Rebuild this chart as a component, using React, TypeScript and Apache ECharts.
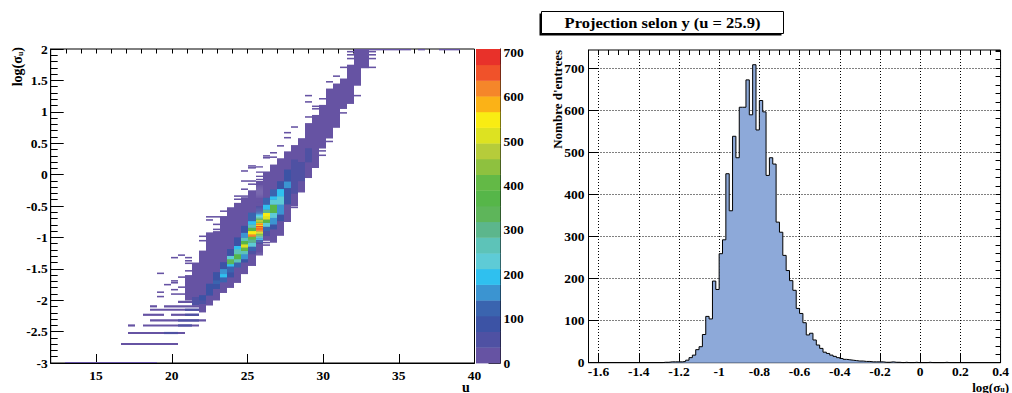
import { useEffect, useRef } from "react";
import * as echarts from "echarts";

const FONT = "'Liberation Serif', 'Times New Roman', serif";

// ---------- left panel: 2D histogram (u vs log(sigma_u)) ----------
const uMin = 12;
const uMax = 40;
const uBinCount = 60;
const vMin = -3;
const vMax = 2;
const vBinCount = 300;
const uTickLabels = [15, 20, 25, 30, 35, 40];
const zMax = 708;
const paletteColors = [
  "#6653a3", "#4f51a3", "#3c53a5", "#3a64af", "#3b94d1",
  "#2fc0ef", "#5ecbd6", "#5dc3b8", "#5cb68c", "#5eb55a",
  "#56b649", "#63b946", "#8ec13f", "#b6cc3a", "#dde221",
  "#f9ec13", "#fbb217", "#f5862a", "#f0522a", "#e8312a",
];
const colorbarTicks = [0, 100, 200, 300, 400, 500, 600, 700];

// dense band per column: [column, vLow, vHigh, count]
const bandCols: [number, number, number, number][] = [
  [19, -2.0, -1.6, 10],
  [20, -2.08, -1.4, 10],
  [21, -2.19, -1.21, 12],
  [22, -2.08, -0.92, 12],
  [23, -2.0, -0.9, 14],
  [24, -1.88, -0.66, 14],
  [25, -1.8, -0.52, 14],
  [26, -1.72, -0.45, 15],
  [27, -1.58, -0.36, 15],
  [28, -1.45, -0.25, 15],
  [30, -1.05, 0.05, 15],
  [31, -1.08, 0.16, 15],
  [32, -0.97, 0.26, 14],
  [33, -0.75, 0.37, 14],
  [34, -0.5, 0.47, 14],
  [35, -0.28, 0.58, 12],
  [36, -0.05, 0.82, 12],
  [37, 0.11, 0.95, 10],
  [38, 0.42, 1.11, 10],
  [39, 0.58, 1.37, 10],
  [40, 0.75, 1.45, 8],
  [41, 1.05, 1.53, 8],
  [42, 1.13, 1.75, 8],
  [43, 1.42, 2.0, 6],
  [44, 1.7, 2.0, 6],
];

// denser ridge runs: [column, vLow, vHigh, count]
const ridgeRuns: [number, number, number, number][] = [
  [21, -2.05, -1.92, 85],
  [20, -2.08, -1.95, 60],
  [22, -1.922, -1.737, 85],
  [23, -1.817, -1.553, 85],
  [23, -1.737, -1.685, 125],
  [24, -1.711, -1.632, 125],
  [24, -1.632, -1.58, 195],
  [24, -1.58, -1.5, 160],
  [24, -1.5, -1.395, 85],
  [25, -1.632, -1.553, 85],
  [25, -1.553, -1.459, 125],
  [25, -1.459, -1.422, 195],
  [25, -1.422, -1.343, 335],
  [25, -1.343, -1.29, 230],
  [25, -1.29, -1.185, 85],
  [26, -1.474, -1.395, 125],
  [26, -1.395, -1.343, 265],
  [26, -1.343, -1.264, 370],
  [26, -1.264, -1.185, 265],
  [26, -1.185, -1.132, 195],
  [26, -1.132, -1.0, 85],
  [27, -1.395, -1.343, 85],
  [27, -1.343, -1.264, 160],
  [27, -1.264, -1.211, 265],
  [27, -1.211, -1.158, 400],
  [27, -1.158, -1.106, 510],
  [27, -1.106, -1.053, 370],
  [27, -1.053, -1.0, 265],
  [27, -1.0, -0.922, 160],
  [27, -0.922, -0.816, 85],
  [28, -1.264, -1.211, 50],
  [28, -1.211, -1.143, 125],
  [28, -1.143, -1.08, 230],
  [28, -1.08, -1.027, 300],
  [28, -1.027, -0.985, 400],
  [28, -0.985, -0.948, 615],
  [28, -0.948, -0.895, 545],
  [28, -0.895, -0.842, 370],
  [28, -0.842, -0.79, 265],
  [28, -0.79, -0.737, 195],
  [28, -0.737, -0.606, 125],
  [30, -0.974, -0.895, 50],
  [30, -0.895, -0.826, 125],
  [30, -0.826, -0.764, 230],
  [30, -0.764, -0.711, 370],
  [30, -0.711, -0.658, 510],
  [30, -0.658, -0.606, 545],
  [30, -0.606, -0.553, 300],
  [30, -0.553, -0.474, 195],
  [30, -0.474, -0.369, 125],
  [31, -0.869, -0.79, 85],
  [31, -0.79, -0.685, 160],
  [31, -0.685, -0.606, 230],
  [31, -0.606, -0.474, 370],
  [31, -0.474, -0.395, 230],
  [31, -0.395, -0.342, 195],
  [31, -0.342, -0.237, 125],
  [32, -0.737, -0.632, 85],
  [32, -0.632, -0.474, 160],
  [32, -0.474, -0.342, 230],
  [32, -0.342, -0.226, 195],
  [32, -0.226, -0.105, 85],
  [33, -0.47, -0.21, 85],
  [33, -0.21, -0.105, 160],
  [33, -0.105, 0.08, 85],
  [34, -0.3, 0.24, 50],
  [35, -0.1, 0.2, 45],
  [36, 0.2, 0.42, 40],
];

// isolated rows of cells: [fromColumn, toColumn, vLow, vHigh, count]
const strayRows: [number, number, number, number, number][] = [
  [42, 42, 1.95, 1.97, 2], [45, 45, 1.95, 1.97, 2],
  [42, 42, 1.9, 1.92, 2], [45, 45, 1.9, 1.92, 2],
  [42, 42, 1.84, 1.86, 2], [45, 45, 1.84, 1.86, 2],
  [41, 41, 1.7, 1.72, 2], [44, 45, 1.7, 1.72, 2],
  [40, 40, 1.56, 1.58, 2], [39, 39, 1.47, 1.49, 2],
  [36, 36, 1.25, 1.27, 2], [43, 43, 1.25, 1.27, 2],
  [38, 38, 1.2, 1.22, 2], [36, 36, 1.15, 1.17, 2],
  [37, 37, 1.08, 1.1, 2], [37, 37, 1.04, 1.06, 2],
  [41, 41, 0.975, 0.995, 2], [36, 36, 0.91, 0.93, 2],
  [34, 34, 0.75, 0.77, 2], [33, 33, 0.66, 0.68, 2],
  [33, 33, 0.58, 0.6, 2], [39, 39, 0.52, 0.54, 2],
  [32, 32, 0.45, 0.47, 2], [31, 31, 0.34, 0.36, 2],
  [38, 38, 0.37, 0.39, 2], [38, 38, 0.3, 0.32, 2],
  [30, 30, 0.26, 0.28, 2], [30, 30, 0.29, 0.31, 2],
  [31, 31, 0.27, 0.29, 2], [28, 28, 0.13, 0.15, 2],
  [28, 28, 0.1, 0.12, 2], [27, 27, 0.05, 0.07, 2],
  [27, 28, -0.11, -0.09, 2], [28, 28, -0.16, -0.14, 2],
  [27, 27, -0.24, -0.22, 2], [26, 27, -0.35, -0.33, 2],
  [26, 26, -0.4, -0.38, 2], [34, 34, -0.53, -0.51, 2],
  [24, 24, -0.59, -0.57, 2], [22, 23, -0.68, -0.66, 2],
  [22, 22, -0.73, -0.71, 2], [23, 23, -0.8, -0.78, 2],
  [23, 23, -0.88, -0.86, 2], [21, 21, -0.99, -0.97, 2],
  [30, 30, -1.09, -1.07, 2], [30, 30, -1.13, -1.11, 2],
  [21, 21, -1.06, -1.04, 2], [18, 18, -1.29, -1.27, 2],
  [17, 17, -1.33, -1.31, 2], [19, 19, -1.33, -1.31, 2],
  [19, 19, -1.38, -1.36, 2], [19, 19, -1.42, -1.4, 2],
  [19, 19, -1.54, -1.52, 2], [15, 15, -1.58, -1.56, 2],
  [18, 18, -1.64, -1.62, 2], [17, 17, -1.7, -1.68, 2],
  [17, 17, -1.73, -1.71, 2], [16, 16, -1.76, -1.74, 2],
  [18, 18, -1.8, -1.78, 2], [17, 17, -1.84, -1.82, 2],
  [15, 15, -1.88, -1.86, 2], [17, 18, -1.91, -1.89, 2],
  [15, 15, -1.95, -1.93, 2],
  [18, 22, -2.04, -2.01, 4],
  [14, 14, -2.11, -2.08, 3], [16, 21, -2.11, -2.08, 4],
  [14, 20, -2.165, -2.135, 4],
  [13, 15, -2.245, -2.215, 3], [17, 20, -2.245, -2.215, 4],
  [14, 21, -2.335, -2.305, 4],
  [11, 11, -2.415, -2.385, 2], [13, 20, -2.415, -2.385, 4],
  [11, 18, -2.535, -2.505, 4],
  [10, 17, -2.71, -2.68, 3],
  [2, 14, -3.0, -2.983, 4],
  [20, 21, -2.04, -2.01, 60], [19, 20, -2.165, -2.135, 60],
  [19, 20, -2.245, -2.215, 60], [18, 20, -2.335, -2.305, 60],
  [18, 19, -2.415, -2.385, 60], [16, 17, -2.535, -2.505, 60],
];

// cells in the topmost bin (v = 2)
const topRowCols = [45, 46, 47, 48, 49, 50, 52, 55, 56, 57];
const topRowCount = 3;

// ---------- right panel: projection of the column u = 25.9 ----------
const projColumn = 29;
const projMin = -1.65;
const projMax = 0.4;
const projYMax = 743;
const projXTicks = [-1.6, -1.4, -1.2, -1, -0.8, -0.6, -0.4, -0.2, 0, 0.2, 0.4];
const projYTicks = [0, 100, 200, 300, 400, 500, 600, 700];
const projCounts = [
  0, 0, 0, 0, 0, 0, 0, 0, 0, 0, 0, 0, 0, 0, 0, 0, 0, 0, 0, 0, 0, 0,
  1, 1, 2, 2, 2,
  2, 3, 6, 12, 18, 31, 38, 67, 110, 104, 194, 174,
  259, 292, 449, 361, 538, 487, 607, 607, 672, 589, 708, 553,
  623, 596, 445, 487, 472, 334, 310, 255, 219, 195, 172, 129,
  117, 95, 66, 70, 54, 42, 34, 25, 22, 18, 15, 12,
  10, 8, 7, 6, 5, 4, 4, 3, 3, 2, 2, 2,
  2, 1, 1, 2, 1, 1, 0, 1, 0, 0, 1, 0,
  0, 0, 1, 0, 0, 0, 0, 1, 0, 0, 0, 0,
  0, 0, 0, 0, 0, 0, 0, 0, 0, 0, 0, 0,
];

const uBin = (uMax - uMin) / uBinCount;
const vBin = (vMax - vMin) / vBinCount;
const colEdge = (k: number) => uMin + k * uBin;

function colorFor(value: number): string {
  const lvl = Math.min(paletteColors.length - 1, Math.floor(value / (zMax / paletteColors.length)));
  return paletteColors[Math.max(0, lvl)];
}

function buildCells(): number[][] {
  const cells: number[][] = [];
  bandCols.forEach(([k, lo, hi, c]) => cells.push([colEdge(k), colEdge(k + 1), lo, hi, c]));
  ridgeRuns.forEach(([k, lo, hi, c]) => cells.push([colEdge(k), colEdge(k + 1), lo, hi, c]));
  strayRows.forEach(([k0, k1, lo, hi, c]) => cells.push([colEdge(k0), colEdge(k1 + 1), lo, hi, c]));
  topRowCols.forEach((k) => cells.push([colEdge(k), colEdge(k + 1), vMax - vBin, vMax, topRowCount]));
  projCounts.forEach((c, i) => {
    if (c > 0) {
      cells.push([colEdge(projColumn), colEdge(projColumn + 1), projMin + i * vBin, projMin + (i + 1) * vBin, c]);
    }
  });
  return cells;
}

const labelStyle = {
  fontFamily: FONT,
  fontWeight: "bold" as const,
  fontSize: 13.5,
  color: "#000",
};
const black = { color: "#000", width: 1 };
const axisLineBlack = { show: true, onZero: false, lineStyle: black };

export default function App() {
  const ref = useRef<HTMLDivElement>(null);
  useEffect(() => {
    if (!ref.current) return;
    const chart = echarts.init(ref.current, undefined, { renderer: "svg" });
    const cells = buildCells();
    const histData: number[][] = projCounts.map((c, i) => [projMin + i * vBin, c]);
    histData.push([projMax, projCounts[projCounts.length - 1]]);
    const colorbarData = paletteColors.map((_, i) => [
      (i * zMax) / paletteColors.length,
      ((i + 1) * zMax) / paletteColors.length,
      i,
    ]);

    const subRich = (lh: number) => ({
      s: { fontFamily: FONT, fontWeight: "bold", fontSize: 8, verticalAlign: "bottom", lineHeight: lh },
    });
    const hidden = { show: false, onZero: false };

    chart.setOption({
      animation: false,
      backgroundColor: "#fff",
      grid: [
        { left: 50.7, top: 49, width: 423.8, height: 314, show: true, borderColor: "#000", borderWidth: 1 },
        { left: 476, top: 49, width: 24.5, height: 314 },
        { left: 588.5, top: 50, width: 417.2, height: 312.7, show: true, borderColor: "#000", borderWidth: 1 },
      ],
      xAxis: [
        {
          gridIndex: 0, type: "value", min: uMin, max: uMax,
          axisLine: axisLineBlack,
          axisTick: { show: true, inside: true, length: 9, customValues: uTickLabels, lineStyle: black },
          axisLabel: { ...labelStyle, customValues: uTickLabels, margin: 5 },
          splitLine: { show: false },
        },
        {
          gridIndex: 0, type: "value", min: uMin, max: uMax, interval: 1,
          axisLine: hidden,
          axisTick: { show: true, inside: true, length: 4.5, lineStyle: black },
          axisLabel: { show: false },
          splitLine: { show: false },
        },
        { gridIndex: 1, type: "value", min: 0, max: 1, show: false, axisLine: hidden },
        {
          gridIndex: 2, type: "value", min: projMin, max: projMax,
          axisLine: axisLineBlack,
          axisTick: { show: true, inside: true, length: 9, customValues: projXTicks, lineStyle: black },
          axisLabel: { ...labelStyle, customValues: projXTicks, margin: 2, lineHeight: 13 },
          splitLine: { show: true, lineStyle: { color: "#000", width: 1, type: [1, 2] } },
        },
        {
          gridIndex: 2, type: "value", min: projMin, max: projMax, interval: 0.05,
          axisLine: hidden,
          axisTick: { show: true, inside: true, length: 5, lineStyle: black },
          axisLabel: { show: false },
          splitLine: { show: false },
        },
      ],
      yAxis: [
        {
          gridIndex: 0, type: "value", min: vMin, max: vMax, interval: 0.5,
          axisLine: axisLineBlack,
          axisTick: { show: true, inside: true, length: 13, lineStyle: black },
          minorTick: { show: true, splitNumber: 5, length: 7, lineStyle: black },
          axisLabel: { ...labelStyle, margin: 3 },
          splitLine: { show: false },
          minorSplitLine: { show: false },
        },
        {
          gridIndex: 1, type: "value", position: "right", min: 0, max: zMax,
          axisLine: axisLineBlack,
          axisTick: { show: true, inside: true, length: 12, customValues: colorbarTicks, lineStyle: { color: "#222", width: 1 } },
          axisLabel: { ...labelStyle, customValues: colorbarTicks, margin: 3 },
          splitLine: { show: false },
        },
        {
          gridIndex: 2, type: "value", min: 0, max: projYMax,
          axisLine: axisLineBlack,
          axisTick: { show: true, inside: true, length: 10, customValues: projYTicks, lineStyle: black },
          axisLabel: { ...labelStyle, customValues: projYTicks, margin: 4 },
          splitLine: { show: true, lineStyle: { color: "#000", width: 1, type: [1, 2] } },
        },
        {
          gridIndex: 2, type: "value", min: 0, max: projYMax, interval: 20,
          axisLine: hidden,
          axisTick: { show: true, inside: true, length: 5, lineStyle: black },
          axisLabel: { show: false },
          splitLine: { show: false },
        },
      ],
      series: [
        {
          type: "custom",
          xAxisIndex: 0,
          yAxisIndex: 0,
          clip: true,
          silent: true,
          encode: { x: [0, 1], y: [2, 3] },
          data: cells,
          renderItem: (_p: any, api: any) => {
            const a = api.coord([api.value(0), api.value(3)]);
            const b = api.coord([api.value(1), api.value(2)]);
            const x0 = Math.round(a[0]);
            const x1 = Math.round(b[0]);
            return {
              type: "rect",
              shape: { x: x0, y: a[1], width: x1 - x0, height: Math.max(1, b[1] - a[1]) + 0.3 },
              style: { fill: colorFor(api.value(4)), stroke: null },
            };
          },
        },
        {
          type: "custom",
          xAxisIndex: 2,
          yAxisIndex: 1,
          silent: true,
          encode: { y: [0, 1] },
          data: colorbarData,
          renderItem: (_p: any, api: any) => {
            const a = api.coord([0, api.value(1)]);
            const b = api.coord([1, api.value(0)]);
            return {
              type: "rect",
              shape: { x: a[0], y: a[1], width: b[0] - a[0], height: b[1] - a[1] + 0.4 },
              style: { fill: paletteColors[api.value(2)], stroke: null },
            };
          },
        },
        {
          type: "line",
          xAxisIndex: 3,
          yAxisIndex: 2,
          step: "end",
          symbol: "none",
          silent: true,
          data: histData,
          lineStyle: { color: "#000", width: 1 },
          areaStyle: { color: "#8da9d9", opacity: 1 },
          z: 1,
        },
      ],
      graphic: [
        {
          type: "text", x: 17, y: 47, rotation: Math.PI / 2,
          style: {
            text: "log(σ{s|u})", rich: subRich(14),
            fontFamily: FONT, fontWeight: "bold", fontSize: 14, lineHeight: 14, fill: "#000",
            align: "right", verticalAlign: "middle", textAlign: "right", textVerticalAlign: "middle",
          },
        },
        {
          type: "text", x: 466, y: 387,
          style: {
            text: "u", fontFamily: FONT, fontWeight: "bold", fontSize: 14, fill: "#000",
            align: "center", verticalAlign: "middle", textAlign: "center", textVerticalAlign: "middle",
          },
        },
        {
          type: "text", x: 557, y: 50, rotation: Math.PI / 2,
          style: {
            text: "Nombre d'entrees", fontFamily: FONT, fontWeight: "bold", fontSize: 13, fill: "#000",
            align: "right", verticalAlign: "middle", textAlign: "right", textVerticalAlign: "middle",
          },
        },
        {
          type: "text", x: 1009, y: 387,
          style: {
            text: "log(σ{s|u})", rich: subRich(12),
            fontFamily: FONT, fontWeight: "bold", fontSize: 13, lineHeight: 12, fill: "#000",
            align: "right", verticalAlign: "middle", textAlign: "right", textVerticalAlign: "middle",
          },
        },
        {
          type: "rect", shape: { x: 539.5, y: 13.5, width: 242, height: 22 },
          style: { fill: "#000" },
        },
        {
          type: "rect", shape: { x: 541.5, y: 11.5, width: 242, height: 22 },
          style: { fill: "#fff", stroke: "#000", lineWidth: 1 },
        },
        {
          type: "text", x: 662.5, y: 22.5, scaleX: 1.1,
          style: {
            text: "Projection selon y (u = 25.9)", fontFamily: FONT, fontWeight: "bold", fontSize: 15, fill: "#000",
            align: "center", verticalAlign: "middle", textAlign: "center", textVerticalAlign: "middle",
          },
        },
      ],
    });
    return () => chart.dispose();
  }, []);
  return (
    <div
      ref={ref}
      style={{ position: "fixed", left: 0, top: 0, width: 1012, height: 393, background: "#fff" }}
    />
  );
}
